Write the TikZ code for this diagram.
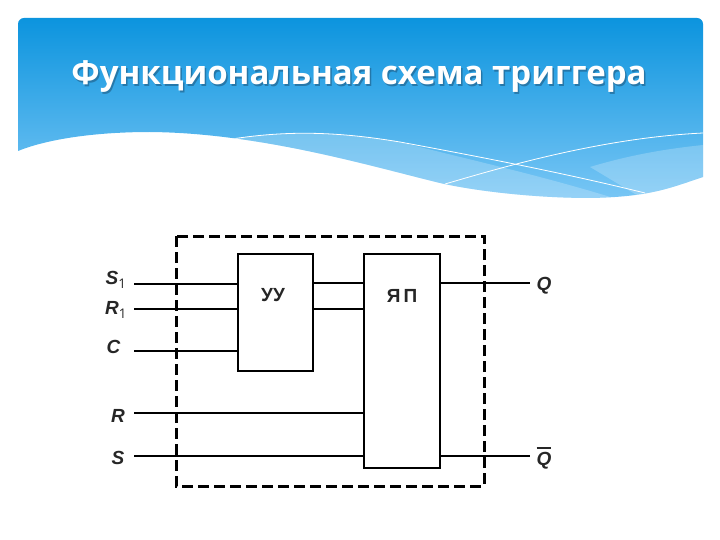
\documentclass[tikz,border=0pt]{standalone}
\usepackage{fontspec}
\setmainfont{Open Sans}
\newfontfamily\labelfont{Liberation Sans}
\usetikzlibrary{positioning}
\definecolor{bannertop}{RGB}{12,148,222}
\definecolor{bannerbottom}{RGB}{120,198,245}
\definecolor{titleshadow}{RGB}{30,90,130}
\newcommand{\bannerpath}{(18,151) [rounded corners=6pt] -- (18,18) -- (703,18) [sharp corners] -- (703,177)
    .. controls (670,188) and (650,197) .. (590,198) .. controls (530,198) and (470,190) .. (440,183)
    .. controls (370,166) and (260,133) .. (150,132) .. controls (100,132) and (50,138) .. (18,151) -- cycle}

\begin{document}
\begin{tikzpicture}[
    x=1pt, y=-1pt,
    block/.style={rectangle, draw=black, line width=2.8pt, fill=white, inner sep=0pt, align=center},
    wire/.style={line width=2.4pt, black},
    frame/.style={line width=3pt, black, dash pattern=on 11pt off 5pt},
    sig/.style={font=\labelfont\bfseries\itshape\fontsize{19}{19}\selectfont, inner sep=0pt, text=black!85},
    blocklabel/.style={font=\labelfont\bfseries\fontsize{19}{19}\selectfont, inner sep=0pt, text=black!85},
    wave/.style={white, line width=0.8pt}
]
\useasboundingbox (0,0) rectangle (720,540);

% banner
\shade[top color=bannertop, bottom color=bannerbottom] \bannerpath;
\begin{scope}
\clip \bannerpath;
\fill[white, opacity=0.22] (232,139) .. controls (290,130) and (340,132) .. (400,142) .. controls (470,160) and (540,175) .. (620,200) -- (440,200) -- (300,150) -- cycle;
\fill[white, opacity=0.22] (590,167) .. controls (630,155) and (665,149) .. (703,145) -- (703,200) -- (645,200) -- cycle;
\draw[wave] (232,139) .. controls (290,130) and (340,132) .. (400,142) .. controls (470,155) and (560,172) .. (645,193);
\draw[wave] (445,184) .. controls (500,168) and (600,138) .. (703,133);
\end{scope}
\node[font=\bfseries\fontsize{33}{33}\selectfont, text=titleshadow, opacity=0.6] at (360.5,78.5) {Функциональная схема триггера};
\node[font=\bfseries\fontsize{33}{33}\selectfont, text=white] (title) at (359,77) {Функциональная схема триггера};

% blocks
\node[block, minimum width=75pt, minimum height=117pt] (uu) at (275.5,312.5) {};
\node[block, minimum width=76pt, minimum height=214pt] (yap) at (402,361) {};
\node[blocklabel] (uutext) at (273,295) {УУ};
\node[blocklabel] (yaptext) at (402,296) {Я\,П};

% input labels
\node[sig] (s1) at (116,280) {S\textsubscript{\normalfont\upshape 1}};
\node[sig] (r1) at (116,310) {R\textsubscript{\normalfont\upshape 1}};
\node[sig] (c) at (113.5,347) {C};
\node[sig] (r) at (118,416) {R};
\node[sig] (s) at (118,458) {S};
\node[sig] (q) at (544,286) {Q};
\node[sig, anchor=base] (qbar) at (544,465) {\rlap{\raisebox{16pt}{\rule{14pt}{1.8pt}}}Q};

\coordinate (ins1) at (134,284);
\coordinate (inr1) at (134,309);
\coordinate (inc) at (134,351);
\coordinate (inr) at (134,413);
\coordinate (ins) at (134,456);
\coordinate (outq) at (530,283);
\coordinate (outqbar) at (530,456);
\coordinate (uuq) at (313,283);
\coordinate (uur) at (313,309);

\draw[frame] (176,236) rectangle (484,486);

\draw[wire] (ins1) -- (ins1 -| uu.west);
\draw[wire] (inr1) -- (inr1 -| uu.west);
\draw[wire] (inc) -- (inc -| uu.west);
\draw[wire] (inr) -- (inr -| yap.west);
\draw[wire] (ins) -- (ins -| yap.west);
\draw[wire] (uuq) -- (uuq -| yap.west);
\draw[wire] (uur) -- (uur -| yap.west);
\draw[wire] (outq -| yap.east) -- (outq);
\draw[wire] (outqbar -| yap.east) -- (outqbar);
\end{tikzpicture}
\end{document}
